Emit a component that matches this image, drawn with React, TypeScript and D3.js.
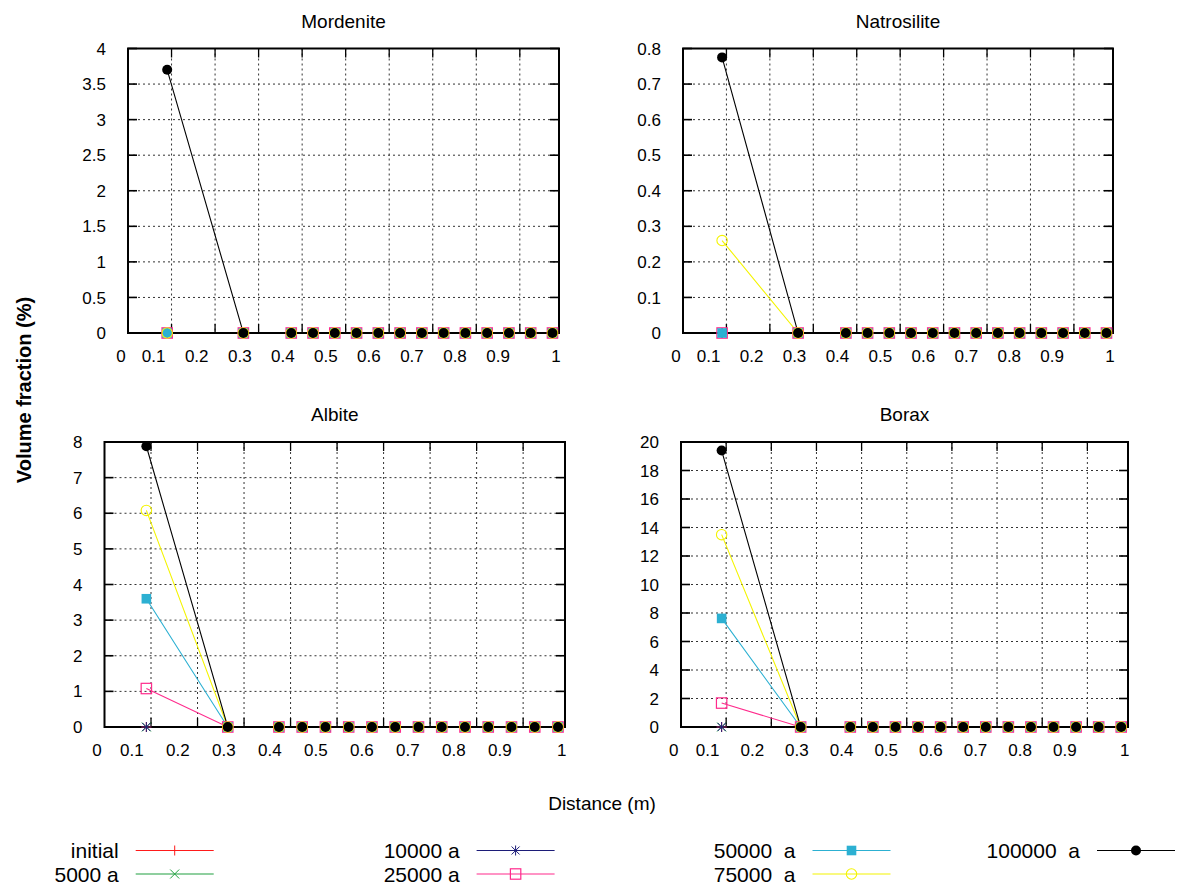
import React, { useEffect, useRef } from "react";
import * as d3 from "d3";

// node positions along the column
const distance = [0.09, 0.265, 0.375, 0.425, 0.475, 0.525, 0.575, 0.625, 0.675, 0.725, 0.775, 0.825, 0.875, 0.925, 0.975];

const xTickValues = [0, 0.1, 0.2, 0.3, 0.4, 0.5, 0.6, 0.7, 0.8, 0.9, 1];
const xTickLabels = ["0", "0.1", "0.2", "0.3", "0.4", "0.5", "0.6", "0.7", "0.8", "0.9", "1"];

const seriesNames = ["initial", "5000 a", "10000 a", "25000 a", "50000  a", "75000  a", "100000  a"];
const seriesColors = ["#ff1a1a", "#20a040", "#1c1c78", "#ff2a8c", "#2cb0d2", "#f4f400", "#000000"];
const seriesMarkers = ["plus", "cross", "star", "openSquare", "filledSquare", "openCircle", "filledCircle"];

const minerals = ["Mordenite", "Natrosilite", "Albite", "Borax"];

// rows: initial, 5000, 10000, 25000, 50000, 75000, 100000 a
const mordenite = [
  [0, 0, 0, 0, 0, 0, 0, 0, 0, 0, 0, 0, 0, 0, 0],
  [0, 0, 0, 0, 0, 0, 0, 0, 0, 0, 0, 0, 0, 0, 0],
  [0, 0, 0, 0, 0, 0, 0, 0, 0, 0, 0, 0, 0, 0, 0],
  [0, 0, 0, 0, 0, 0, 0, 0, 0, 0, 0, 0, 0, 0, 0],
  [0, 0, 0, 0, 0, 0, 0, 0, 0, 0, 0, 0, 0, 0, 0],
  [0, 0, 0, 0, 0, 0, 0, 0, 0, 0, 0, 0, 0, 0, 0],
  [3.7, 0, 0, 0, 0, 0, 0, 0, 0, 0, 0, 0, 0, 0, 0],
];
const natrosilite = [
  [0, 0, 0, 0, 0, 0, 0, 0, 0, 0, 0, 0, 0, 0, 0],
  [0, 0, 0, 0, 0, 0, 0, 0, 0, 0, 0, 0, 0, 0, 0],
  [0, 0, 0, 0, 0, 0, 0, 0, 0, 0, 0, 0, 0, 0, 0],
  [0, 0, 0, 0, 0, 0, 0, 0, 0, 0, 0, 0, 0, 0, 0],
  [0, 0, 0, 0, 0, 0, 0, 0, 0, 0, 0, 0, 0, 0, 0],
  [0.26, 0, 0, 0, 0, 0, 0, 0, 0, 0, 0, 0, 0, 0, 0],
  [0.775, 0, 0, 0, 0, 0, 0, 0, 0, 0, 0, 0, 0, 0, 0],
];
const albite = [
  [0, 0, 0, 0, 0, 0, 0, 0, 0, 0, 0, 0, 0, 0, 0],
  [0, 0, 0, 0, 0, 0, 0, 0, 0, 0, 0, 0, 0, 0, 0],
  [0, 0, 0, 0, 0, 0, 0, 0, 0, 0, 0, 0, 0, 0, 0],
  [1.08, 0, 0, 0, 0, 0, 0, 0, 0, 0, 0, 0, 0, 0, 0],
  [3.6, 0, 0, 0, 0, 0, 0, 0, 0, 0, 0, 0, 0, 0, 0],
  [6.08, 0, 0, 0, 0, 0, 0, 0, 0, 0, 0, 0, 0, 0, 0],
  [7.88, 0, 0, 0, 0, 0, 0, 0, 0, 0, 0, 0, 0, 0, 0],
];
const borax = [
  [0, 0, 0, 0, 0, 0, 0, 0, 0, 0, 0, 0, 0, 0, 0],
  [0, 0, 0, 0, 0, 0, 0, 0, 0, 0, 0, 0, 0, 0, 0],
  [0, 0, 0, 0, 0, 0, 0, 0, 0, 0, 0, 0, 0, 0, 0],
  [1.68, 0, 0, 0, 0, 0, 0, 0, 0, 0, 0, 0, 0, 0, 0],
  [7.62, 0, 0, 0, 0, 0, 0, 0, 0, 0, 0, 0, 0, 0, 0],
  [13.5, 0, 0, 0, 0, 0, 0, 0, 0, 0, 0, 0, 0, 0, 0],
  [19.4, 0, 0, 0, 0, 0, 0, 0, 0, 0, 0, 0, 0, 0, 0],
];
const mineralData = [mordenite, natrosilite, albite, borax];

const mordeniteTicks = [0, 0.5, 1, 1.5, 2, 2.5, 3, 3.5, 4];
const natrositeTicks = [0, 0.1, 0.2, 0.3, 0.4, 0.5, 0.6, 0.7, 0.8];
const albiteTicks = [0, 1, 2, 3, 4, 5, 6, 7, 8];
const boraxTicks = [0, 2, 4, 6, 8, 10, 12, 14, 16, 18, 20];
const yTicks = [mordeniteTicks, natrositeTicks, albiteTicks, boraxTicks];

const W = 1185;
const H = 887;
const FONT = "'Liberation Sans', Arial, Helvetica, sans-serif";

// plot frames (pixels)
const frames = [
  { left: 128, right: 559, top: 48.5, bottom: 333 },
  { left: 683, right: 1113, top: 48.5, bottom: 333 },
  { left: 104.5, right: 565, top: 442, bottom: 727 },
  { left: 681, right: 1128, top: 442, bottom: 727 },
];

// where tick labels sit, as a fraction of the tick scale
const labelFrac = d3.scaleLinear().domain([0, 0.1, 0.9, 1]).range([-0.016, 0.059, 0.85, 0.983]);

function drawMarker(g, type, x, y, color) {
  const s = 5;
  if (type === "plus" || type === "star") {
    g.append("path").attr("d", `M${x - s},${y}H${x + s}M${x},${y - s}V${y + s}`)
      .attr("stroke", color).attr("stroke-width", 1).attr("fill", "none");
  }
  if (type === "cross" || type === "star") {
    const c = type === "star" ? 4 : 4.5;
    g.append("path").attr("d", `M${x - c},${y - c}L${x + c},${y + c}M${x - c},${y + c}L${x + c},${y - c}`)
      .attr("stroke", color).attr("stroke-width", 1).attr("fill", "none");
  }
  if (type === "openSquare") {
    g.append("rect").attr("x", x - 5.2).attr("y", y - 5.2).attr("width", 10.4).attr("height", 10.4)
      .attr("fill", "none").attr("stroke", color).attr("stroke-width", 1.2);
  }
  if (type === "filledSquare") {
    g.append("rect").attr("x", x - 4.8).attr("y", y - 4.8).attr("width", 9.6).attr("height", 9.6)
      .attr("fill", color);
  }
  if (type === "openCircle") {
    g.append("circle").attr("cx", x).attr("cy", y).attr("r", 5.2)
      .attr("fill", "none").attr("stroke", color).attr("stroke-width", 1.1);
  }
  if (type === "filledCircle") {
    g.append("circle").attr("cx", x).attr("cy", y).attr("r", 5).attr("fill", color);
  }
}

const App = () => {
  const ref = useRef(null);

  useEffect(() => {
    const svg = d3.select(ref.current);
    svg.selectAll("*").remove();

    minerals.forEach((name, pi) => {
      const f = frames[pi];
      const ticks = yTicks[pi];
      const g = svg.append("g");

      const x = d3.scaleLinear().domain([0, 1]).range([f.left, f.left + (f.right - f.left) / 0.99]);
      const y = d3.scaleLinear().domain([0, ticks[ticks.length - 1]]).range([f.bottom, f.top]);

      const inner = xTickValues.filter(v => v > 0 && v < 1);

      // grid
      g.selectAll(".gx").data(inner).enter().append("line")
        .attr("x1", d => x(d)).attr("x2", d => x(d))
        .attr("y1", f.top).attr("y2", f.bottom)
        .attr("stroke", "#333").attr("stroke-width", 1).attr("stroke-dasharray", "2,3");
      g.selectAll(".gy").data(ticks.slice(1, -1)).enter().append("line")
        .attr("x1", f.left).attr("x2", f.right)
        .attr("y1", d => y(d)).attr("y2", d => y(d))
        .attr("stroke", "#333").attr("stroke-width", 1).attr("stroke-dasharray", "2,3");

      // ticks (inward, mirrored)
      inner.forEach(v => {
        g.append("line").attr("x1", x(v)).attr("x2", x(v)).attr("y1", f.bottom).attr("y2", f.bottom - 9)
          .attr("stroke", "#000").attr("stroke-width", 1.3);
        g.append("line").attr("x1", x(v)).attr("x2", x(v)).attr("y1", f.top).attr("y2", f.top + 9)
          .attr("stroke", "#000").attr("stroke-width", 1.3);
      });
      ticks.forEach(v => {
        g.append("line").attr("x1", f.left).attr("x2", f.left + 9).attr("y1", y(v)).attr("y2", y(v))
          .attr("stroke", "#000").attr("stroke-width", 1.6);
        g.append("line").attr("x1", f.right).attr("x2", f.right - 9).attr("y1", y(v)).attr("y2", y(v))
          .attr("stroke", "#000").attr("stroke-width", 1.6);
      });

      // tick labels
      xTickValues.forEach((v, i) => {
        g.append("text").attr("x", x(labelFrac(v))).attr("y", f.bottom + 29)
          .attr("text-anchor", "middle").attr("font-size", 17).attr("font-family", FONT)
          .text(xTickLabels[i]);
      });
      ticks.forEach(v => {
        g.append("text").attr("x", f.left - 22).attr("y", y(v)).attr("dy", "0.36em")
          .attr("text-anchor", "end").attr("font-size", 17).attr("font-family", FONT)
          .text(String(v));
      });

      // title
      g.append("text").attr("x", (f.left + f.right) / 2).attr("y", f.top - 21)
        .attr("text-anchor", "middle").attr("font-size", 19).attr("font-family", FONT)
        .text(name);

      // series lines, then the border in front, then the points
      const rows = mineralData[pi];
      const line = d3.line().x((d, i) => x(distance[i])).y(d => y(d));
      rows.forEach((vals, si) => {
        g.append("path").datum(vals).attr("d", line)
          .attr("fill", "none").attr("stroke", seriesColors[si]).attr("stroke-width", 1.1);
      });

      g.append("rect").attr("x", f.left).attr("y", f.top)
        .attr("width", f.right - f.left).attr("height", f.bottom - f.top)
        .attr("fill", "none").attr("stroke", "#000").attr("stroke-width", 2);

      rows.forEach((vals, si) => {
        vals.forEach((v, i) => drawMarker(g, seriesMarkers[si], x(distance[i]), y(v), seriesColors[si]));
      });
    });

    // axis titles
    svg.append("text").attr("transform", "translate(31,390) rotate(-90)")
      .attr("text-anchor", "middle").attr("font-size", 20).attr("font-weight", "bold")
      .attr("font-family", FONT).text("Volume fraction (%)");
    svg.append("text").attr("x", 602).attr("y", 810)
      .attr("text-anchor", "middle").attr("font-size", 19).attr("font-family", FONT)
      .text("Distance (m)");

    // legend
    const colRight = [118.7, 459.6, 795.5, 1080];
    const rowY = [850.5, 874];
    seriesNames.forEach((name, i) => {
      const cx = colRight[Math.floor(i / 2)];
      const cy = rowY[i % 2];
      const lg = svg.append("g");
      lg.append("text").attr("x", cx).attr("y", cy).attr("dy", "0.36em")
        .attr("text-anchor", "end").attr("font-size", 21).attr("font-family", FONT)
        .style("white-space", "pre").text(name);
      lg.append("line").attr("x1", cx + 17).attr("x2", cx + 95).attr("y1", cy).attr("y2", cy)
        .attr("stroke", seriesColors[i]).attr("stroke-width", 1.1);
      drawMarker(lg, seriesMarkers[i], cx + 56, cy, seriesColors[i]);
    });
  }, []);

  return (
    <svg ref={ref} width={W} height={H}
      style={{ position: "absolute", left: 0, top: 0, background: "#fff" }} />
  );
};

export default App;
